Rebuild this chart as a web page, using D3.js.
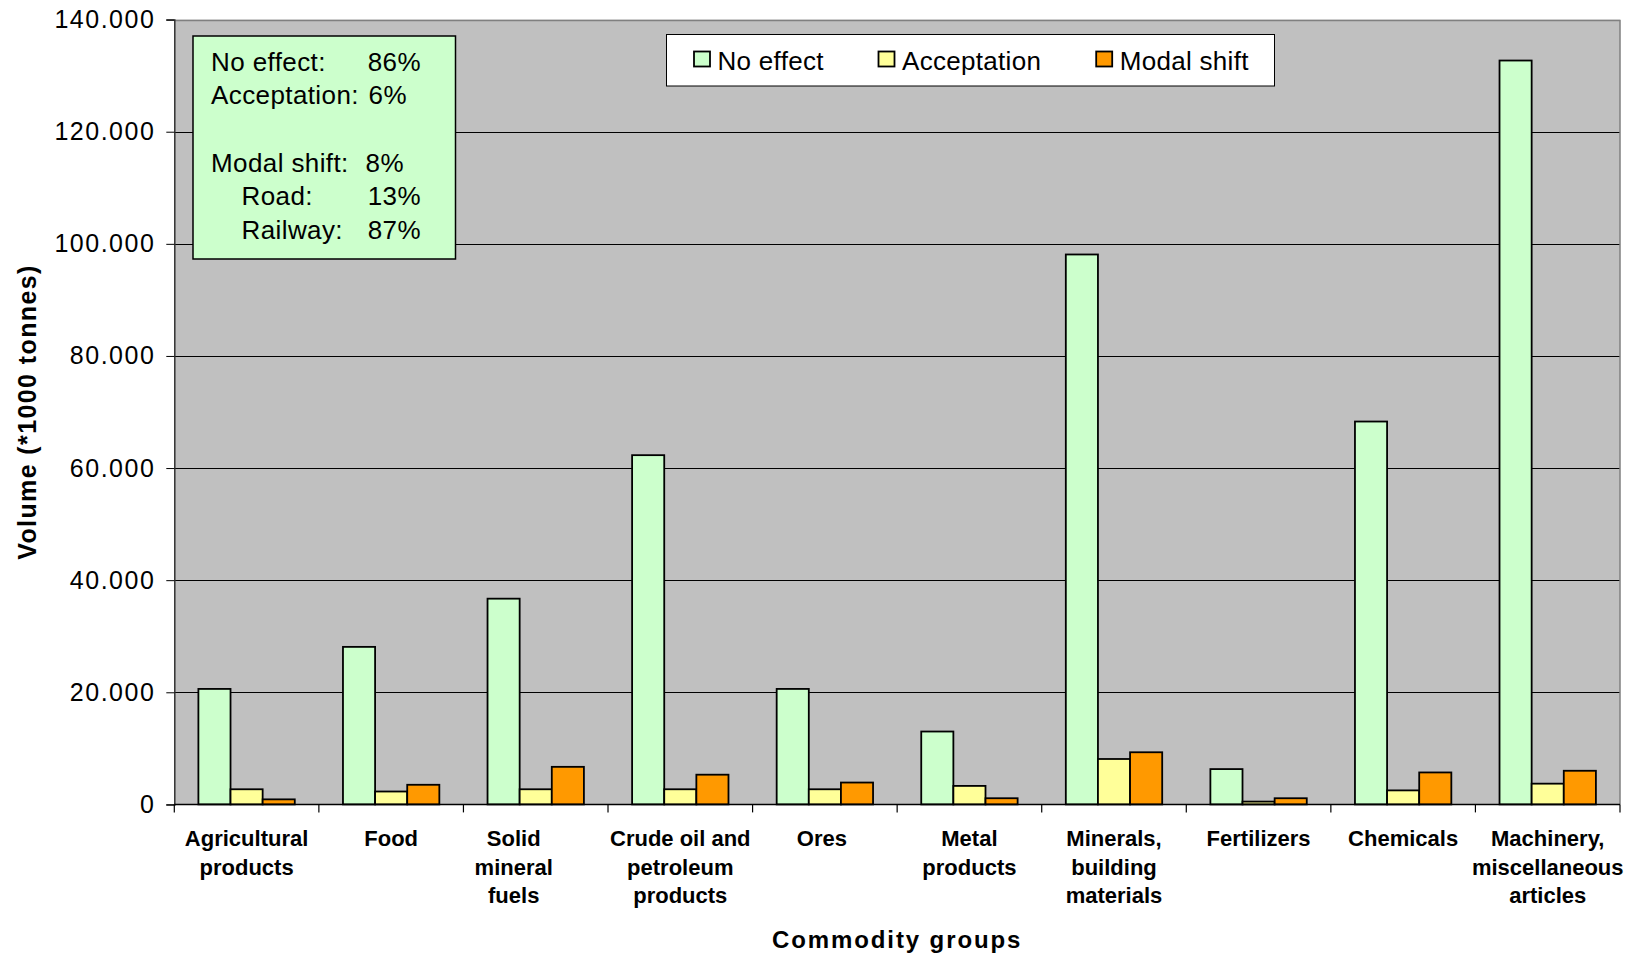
<!DOCTYPE html>
<html>
<head>
<meta charset="utf-8">
<script src="https://cdn.jsdelivr.net/npm/d3@7"></script>
<style>
  html, body { margin: 0; padding: 0; background: #fff; }
  svg { display: block; font-family: "Liberation Sans", Arial, sans-serif; }
</style>
</head>
<body>
<svg id="chart" width="1637" height="955"></svg>
<script>
// Freight volume per commodity group (in 1000 tonnes), split by effect
const categories = [
  ["Agricultural", "products"],
  ["Food"],
  ["Solid", "mineral", "fuels"],
  ["Crude oil and", "petroleum", "products"],
  ["Ores"],
  ["Metal", "products"],
  ["Minerals,", "building", "materials"],
  ["Fertilizers"],
  ["Chemicals"],
  ["Machinery,", "miscellaneous", "articles"]
];
const seriesNames = ["No effect", "Acceptation", "Modal shift"];
const noEffect    = [20600, 28100, 36700, 62300, 20600, 13000, 98100, 6300, 68300, 132700];
const acceptation = [2700, 2300, 2700, 2700, 2700, 3300, 8100, 500, 2500, 3700];
const modalShift  = [900, 3500, 6700, 5300, 3900, 1100, 9300, 1100, 5700, 6000];
const yTicks = [0, 20000, 40000, 60000, 80000, 100000, 120000, 140000];
const summaryLabels = ["No effect:", "Acceptation:", "Modal shift:", "Road:", "Railway:"];
const summaryValues = ["86%", "6%", "8%", "13%", "87%"];

const colors = ["#CCFFCC", "#FFFF99", "#FF9900"];
const seriesValues = [noEffect, acceptation, modalShift];

const svg = d3.select("#chart");
const plot = { left: 174.3, right: 1620, top: 19.6, bottom: 804.4 };

const x0 = d3.scaleBand()
  .domain(d3.range(categories.length))
  .range([plot.left, plot.right])
  .paddingInner(0).paddingOuter(0);
const x1 = d3.scaleBand()
  .domain(d3.range(seriesNames.length))
  .range([0, x0.bandwidth()])
  .paddingInner(0).paddingOuter(0.75);
const y = d3.scaleLinear().domain([0, 140000]).range([plot.bottom, plot.top]);

const locale = d3.formatLocale({ decimal: ",", thousands: ".", grouping: [3], currency: ["", ""] });
const fmt = locale.format(",");

// plot area
svg.append("rect")
  .attr("x", plot.left).attr("y", plot.top)
  .attr("width", plot.right - plot.left).attr("height", plot.bottom - plot.top)
  .attr("fill", "#C0C0C0");

// gridlines
svg.append("g")
  .selectAll("line")
  .data(yTicks.filter(d => d > 0 && d < 140000))
  .join("line")
  .attr("x1", plot.left).attr("x2", plot.right)
  .attr("y1", d => Math.round(y(d)) + 0.5).attr("y2", d => Math.round(y(d)) + 0.5)
  .attr("stroke", "#000").attr("stroke-width", 1);

// plot border (top / right)
svg.append("path")
  .attr("d", `M${plot.left},${Math.round(plot.top) + 0.5}H${plot.right}V${plot.bottom}`)
  .attr("fill", "none").attr("stroke", "#808080").attr("stroke-width", 1.5);

// bars
const groups = svg.append("g")
  .selectAll("g")
  .data(categories.map((c, i) => i))
  .join("g")
  .attr("transform", i => `translate(${x0(i)},0)`);

groups.selectAll("rect")
  .data(i => seriesValues.map((vals, s) => ({ s, v: vals[i] })))
  .join("rect")
  .attr("x", d => x1(d.s))
  .attr("y", d => y(d.v))
  .attr("width", x1.bandwidth())
  .attr("height", d => y(0) - y(d.v))
  .attr("fill", d => colors[d.s])
  .attr("stroke", "#000")
  .attr("stroke-width", 1.8);

// y axis
const yAxis = svg.append("g")
  .attr("transform", `translate(${plot.left},0)`)
  .call(d3.axisLeft(y).tickValues(yTicks).tickFormat(fmt).tickSize(8).tickPadding(11));
yAxis.select(".domain").attr("stroke", "#333").attr("stroke-width", 1.5);
yAxis.selectAll(".tick line").attr("stroke", "#000");
yAxis.selectAll(".tick text")
  .attr("font-size", 25).attr("fill", "#000")
  .attr("font-family", "Liberation Sans, Arial, sans-serif")
  .style("letter-spacing", "1.5px");

// x axis baseline and category separators
const xAxis = svg.append("g").attr("transform", `translate(0,${plot.bottom})`);
xAxis.append("line")
  .attr("x1", plot.left).attr("x2", plot.right)
  .attr("stroke", "#000").attr("stroke-width", 1.5);
xAxis.selectAll("line.sep")
  .data(d3.range(categories.length + 1))
  .join("line")
  .attr("class", "sep")
  .attr("x1", i => i < categories.length ? x0(i) : plot.right)
  .attr("x2", i => i < categories.length ? x0(i) : plot.right)
  .attr("y1", 0).attr("y2", 8)
  .attr("stroke", "#000").attr("stroke-width", 1.2);

// category labels (the "Solid mineral fuels" block sits a little left of centre)
const labelNudge = { 2: -22, 4: -3 };
const labelX = i => x0(i) + x0.bandwidth() / 2 + (labelNudge[i] || 0);
const catLabels = svg.append("g")
  .selectAll("text")
  .data(categories)
  .join("text")
  .attr("x", (d, i) => labelX(i))
  .attr("y", 846)
  .attr("text-anchor", "middle")
  .attr("font-size", 22).attr("font-weight", "bold").attr("fill", "#000");
catLabels.selectAll("tspan")
  .data((d, i) => d.map(t => ({ t, i })))
  .join("tspan")
  .attr("x", d => labelX(d.i))
  .attr("dy", (d, j) => j === 0 ? 0 : 28.5)
  .text(d => d.t);

// axis titles
svg.append("text")
  .attr("x", (plot.left + plot.right) / 2).attr("y", 948)
  .attr("text-anchor", "middle")
  .attr("font-size", 24).attr("font-weight", "bold")
  .style("letter-spacing", "1.9px")
  .text("Commodity groups");
svg.append("text")
  .attr("transform", `translate(36,${(plot.top + plot.bottom) / 2}) rotate(-90)`)
  .attr("text-anchor", "middle")
  .attr("font-size", 25).attr("font-weight", "bold")
  .style("letter-spacing", "1.4px")
  .text("Volume (*1000 tonnes)");

// legend
const legend = svg.append("g");
legend.append("rect")
  .attr("x", 666.5).attr("y", 34.5).attr("width", 608).attr("height", 51.5)
  .attr("fill", "#fff").attr("stroke", "#000").attr("stroke-width", 1);
const legendX = [693.5, 878, 1095.7];
const legendItems = legend.selectAll("g.item")
  .data(seriesNames)
  .join("g").attr("class", "item")
  .attr("transform", (d, i) => `translate(${legendX[i]},0)`);
legendItems.append("rect")
  .attr("x", 0.5).attr("y", 51.5).attr("width", 16).attr("height", 15)
  .attr("fill", (d, i) => colors[i]).attr("stroke", "#000").attr("stroke-width", 1.8);
legendItems.append("text")
  .attr("x", 24).attr("y", 70)
  .attr("font-size", 26).attr("fill", "#000")
  .style("letter-spacing", "0.3px")
  .text(d => d);

// summary box
const box = svg.append("g");
box.append("rect")
  .attr("x", 193).attr("y", 36).attr("width", 262.5).attr("height", 223)
  .attr("fill", "#CCFFCC").attr("stroke", "#000").attr("stroke-width", 1.5);
const rowY = [70.5, 104, 171.5, 205, 238.5];
const summaryX = [211, 211, 211, 241.5, 241.5];
const valueEndX = [421, 407, 404, 421, 421];
box.selectAll("text.lab")
  .data(summaryLabels)
  .join("text").attr("class", "lab")
  .attr("x", (d, i) => summaryX[i]).attr("y", (d, i) => rowY[i])
  .attr("font-size", 26).style("letter-spacing", "0.4px")
  .text(d => d);
box.selectAll("text.val")
  .data(summaryValues)
  .join("text").attr("class", "val")
  .attr("x", (d, i) => valueEndX[i]).attr("y", (d, i) => rowY[i])
  .attr("text-anchor", "end")
  .attr("font-size", 26).style("letter-spacing", "0.4px")
  .text(d => d);
</script>
</body>
</html>
